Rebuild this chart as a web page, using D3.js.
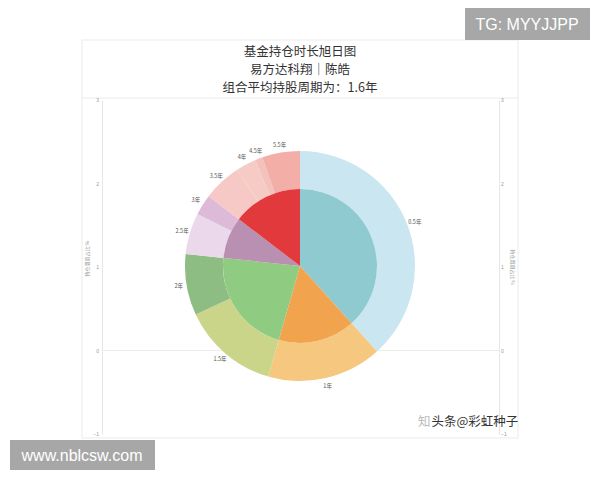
<!DOCTYPE html>
<html><head><meta charset="utf-8">
<script src="https://cdn.jsdelivr.net/npm/d3@7/dist/d3.min.js"></script>
<style>body{margin:0;background:#fff;}svg{display:block;font-family:"Noto Sans CJK SC","Noto Sans",sans-serif;}</style>
</head><body>
<svg id="c" width="600" height="480"></svg>
<script>
const titleLines = ["基金持仓时长旭日图", "易方达科翔｜陈皓", "组合平均持股周期为：1.6年"];
const outerLabels = ["0.5年","1年","1.5年","2年","2.5年","3年","3.5年","4年","4.5年","5.5年"];
const outerValues = [38.3, 16.1, 13.6, 8.6, 5.8, 2.9, 5.4, 2.8, 1.1, 5.3];
const outerColors = ["#c9e6f1","#f6c77f","#cbd58a","#8dbd82","#ecd8eb","#dcbad8","#f6c9c6","#f6cbc6","#f4c2bc","#f2aea7"];
const innerLabels = ["0.5年","1年","1.5-2年","2.5-3年","3.5年以上"];
const innerValues = [38.3, 16.1, 22.2, 8.7, 14.6];
const innerColors = ["#8fcad1","#f2a34d","#8fcb80","#b98fb2","#e1393c"];
const yTicks = [-1, 0, 1, 2, 3];
const yAxisTitle = "持仓周期占比 %";

const svg = d3.select("#c");

// frame
svg.append("rect").attr("x",82).attr("y",40).attr("width",436).attr("height",398)
  .attr("fill","#fff").attr("stroke","#ebebeb").attr("stroke-width",1);
svg.append("line").attr("x1",82).attr("x2",518).attr("y1",98).attr("y2",98)
  .attr("stroke","#ececec");

// title
svg.append("g").selectAll("text").data(titleLines).join("text")
  .attr("x",300).attr("y",(d,i)=>56+i*18).attr("text-anchor","middle")
  .attr("font-size",12.5).attr("fill","#333").text(d=>d);

// axes
const y = d3.scaleLinear().domain([-1,3]).range([434,100]);
const gl = svg.append("g").attr("transform","translate(102,0)")
  .call(d3.axisLeft(y).tickValues(yTicks).tickFormat(d3.format("d")).tickSize(0).tickPadding(3));
const gr = svg.append("g").attr("transform","translate(499,0)")
  .call(d3.axisRight(y).tickValues(yTicks).tickFormat(d3.format("d")).tickSize(0).tickPadding(2));
[gl,gr].forEach(g=>{
  g.select(".domain").attr("stroke","#e6e6e6");
  g.selectAll("text").attr("font-size",5).attr("fill","#999");
});
svg.append("line").attr("x1",102).attr("x2",499).attr("y1",y(0)).attr("y2",y(0)).attr("stroke","#ececec");
svg.append("text").attr("transform","translate(89,"+y(1.1)+") rotate(-90)")
  .attr("text-anchor","middle").attr("font-size",5).attr("fill","#999").text(yAxisTitle);
svg.append("text").attr("transform","translate(511,"+y(1)+") rotate(90)")
  .attr("text-anchor","middle").attr("font-size",5).attr("fill","#999").text(yAxisTitle);

// sunburst-like pie
const cx = 300, cy = 266, R = 115, r = 77;
const g = svg.append("g").attr("transform",`translate(${cx},${cy})`);
const pie = d3.pie().sort(null).value(d=>d);
const outerArcs = pie(outerValues);
const innerArcs = pie(innerValues);
const arcOuter = d3.arc().innerRadius(r).outerRadius(R);
const arcInner = d3.arc().innerRadius(0).outerRadius(r);
g.selectAll("path.o").data(outerArcs).join("path").attr("class","o")
  .attr("d",arcOuter).attr("fill",(d,i)=>outerColors[i]);
g.selectAll("path.i").data(innerArcs).join("path").attr("class","i")
  .attr("d",arcInner).attr("fill",(d,i)=>innerColors[i]);
const labelArc = d3.arc().innerRadius(R+8).outerRadius(R+8);
g.selectAll("text.l").data(outerArcs).join("text").attr("class","l")
  .attr("transform",d=>`translate(${labelArc.centroid(d)})`)
  .attr("text-anchor","middle").attr("dy","0.35em")
  .attr("font-size",5.5).attr("fill","#555").text((d,i)=>outerLabels[i]);

// watermarks
const wm = svg.append("text").attr("x",418).attr("y",426).attr("font-size",12.5);
wm.append("tspan").attr("fill","#bbb").text("知");
wm.append("tspan").attr("dx",1).attr("fill","#333").attr("stroke","#fff").attr("stroke-width",0.6)
  .attr("paint-order","stroke").text("头条@彩虹种子");
svg.append("rect").attr("x",465).attr("y",8).attr("width",125).attr("height",32).attr("fill","#a7a7a7");
svg.append("text").attr("x",527).attr("y",30).attr("text-anchor","middle").attr("font-size",16)
  .attr("font-family","Liberation Sans, Arial, sans-serif").attr("fill","#fff").text("TG: MYYJJPP");
svg.append("rect").attr("x",10).attr("y",440).attr("width",145).attr("height",30).attr("fill","#a7a7a7");
svg.append("text").attr("x",82).attr("y",461).attr("text-anchor","middle").attr("font-size",16)
  .attr("font-family","Liberation Sans, Arial, sans-serif").attr("fill","#fff").text("www.nblcsw.com");
</script>
</body></html>
